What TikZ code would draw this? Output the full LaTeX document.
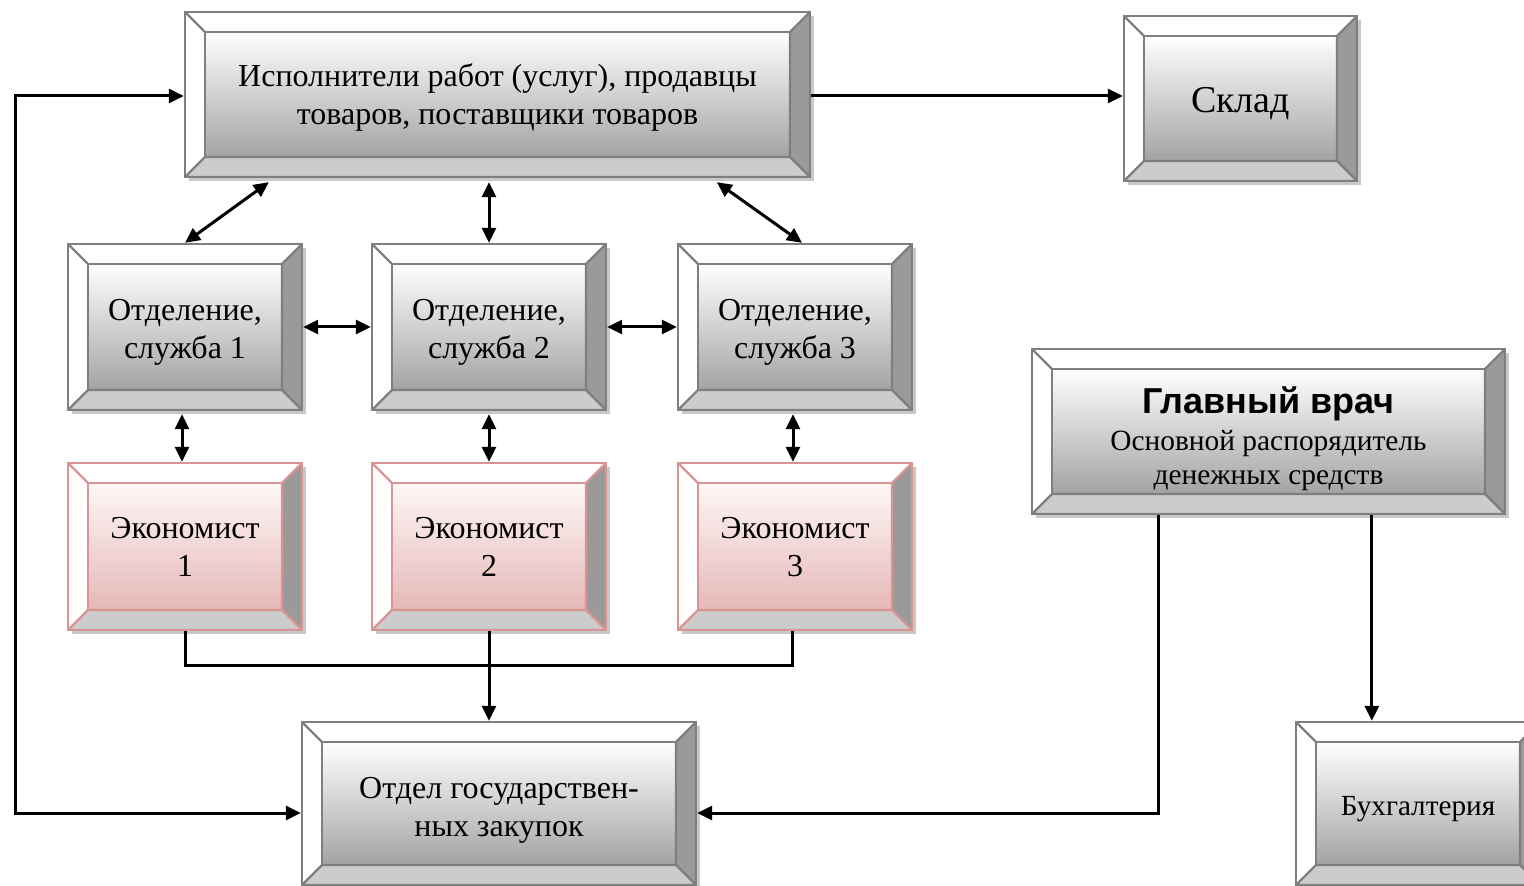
\documentclass[tikz,border=0pt]{standalone}
\usepackage{fontspec}
\setmainfont{Liberation Serif}
\newfontfamily\bsans{Liberation Sans}
\usetikzlibrary{calc,arrows.meta}
\definecolor{bgray}{HTML}{7F7F7F}
\definecolor{bpink}{HTML}{D99594}
\definecolor{rbev}{HTML}{9A9A9A}
\definecolor{bbev}{HTML}{CCCCCC}
\definecolor{ginner}{HTML}{A3A3A3}
\definecolor{pinner}{HTML}{E6B8B7}
\definecolor{ptop}{HTML}{FDF7F7}
\definecolor{shad}{HTML}{C8C8C8}
\tikzset{
  x=0.5pt, y=-0.5pt,
  tup/.style={execute at begin node={\rule{0pt}{#1}}},
  bevbase/.style n args={3}{
    rectangle, inner sep=0pt, draw=#1, line width=1.2pt, fill=white, align=center,
    font=\fontsize{16}{19}\selectfont,
    execute at end node=\strut,
    preaction={fill=shad, draw=none, transform canvas={shift={(1.8pt,-1.8pt)}}},
    path picture={
      \coordinate (bNW) at (path picture bounding box.north west);
      \coordinate (bNE) at (path picture bounding box.north east);
      \coordinate (bSW) at (path picture bounding box.south west);
      \coordinate (bSE) at (path picture bounding box.south east);
      \shade[top color=#2, bottom color=#3] ($(bNW)+(10pt,-10pt)$) rectangle ($(bSE)+(-10pt,10pt)$);
      \draw[draw=#1, line width=1.2pt] ($(bNW)+(10pt,-10pt)$) rectangle ($(bSE)+(-10pt,10pt)$);
      \filldraw[fill=rbev, draw=#1, line width=1.2pt, line join=round] (bNE) -- (bSE) -- ($(bSE)+(-10pt,10pt)$) -- ($(bNE)+(-10pt,-10pt)$) -- cycle;
      \filldraw[fill=bbev, draw=#1, line width=1.2pt, line join=round] (bSW) -- (bSE) -- ($(bSE)+(-10pt,10pt)$) -- ($(bSW)+(10pt,10pt)$) -- cycle;
      \draw[draw=#1, line width=1.2pt] (bNW) -- ($(bNW)+(10pt,-10pt)$);
    }
  },
  bevgray/.style={bevbase={bgray}{white}{ginner}},
  bevpink/.style={bevbase={bpink}{ptop}{pinner}},
  conn/.style={line width=1.5pt, black, line join=miter},
  arr/.style={conn, -{Triangle[length=7.5pt,width=7pt]}},
  dbl/.style={conn, {Triangle[length=7.5pt,width=7pt]}-{Triangle[length=7.5pt,width=7pt]}},
}
\begin{document}
\begin{tikzpicture}
\useasboundingbox (0,0) rectangle (1524,886);
\node[bevgray, minimum width=312.5pt, minimum height=82.5pt, tup=36pt] (top) at (497.5,94.5)
  {Исполнители работ (услуг), продавцы\\товаров, поставщики товаров};
\node[bevgray, minimum width=116.5pt, minimum height=82.5pt, font=\fontsize{19}{22}\selectfont, tup=20.4pt] (sklad) at (1240.5,98.5) {Склад};
\node[bevgray, minimum width=117pt, minimum height=83pt, tup=37.5pt] (otd1) at (185,327) {Отделение,\\служба 1};
\node[bevgray, minimum width=117pt, minimum height=83pt, tup=37.5pt] (otd2) at (489,327) {Отделение,\\служба 2};
\node[bevgray, minimum width=117pt, minimum height=83pt, tup=37.5pt] (otd3) at (795,327) {Отделение,\\служба 3};
\node[bevpink, minimum width=117pt, minimum height=83.5pt, tup=36pt] (ek1) at (185,546.5) {Экономист\\1};
\node[bevpink, minimum width=117pt, minimum height=83.5pt, tup=36pt] (ek2) at (489,546.5) {Экономист\\2};
\node[bevpink, minimum width=117pt, minimum height=83.5pt, tup=36pt] (ek3) at (795,546.5) {Экономист\\3};
\node[bevgray, minimum width=236.5pt, minimum height=82.5pt, font=\fontsize{14.7}{17}\selectfont, tup=58.6pt] (glav) at (1268.5,431.5)
  {{\bsans\bfseries\fontsize{18}{18}\selectfont Главный врач}\\[1.5pt]Основной распорядитель\\денежных средств};
\node[bevgray, minimum width=197pt, minimum height=81.5pt, tup=38.5pt] (zak) at (499,803.5) {Отдел государствен-\\ных закупок};
\node[bevgray, minimum width=122pt, minimum height=81.5pt, font=\fontsize{14.6}{17}\selectfont, tup=16.9pt] (buh) at (1418,803.5) {Бухгалтерия};

\coordinate (L1) at (15,96);
\coordinate (L2) at (15,813);
\draw[dbl] (top.west |- L1) -- (L1) -- (L2) -- (L2 -| zak.west);
\draw[arr] (top.east |- L1) -- (L1 -| sklad.west);
\draw[dbl] ($(top.south west)+(85,4)$) -- (otd1.north);
\draw[dbl] ($(otd2.north |- top.south)+(0,4)$) -- (otd2.north);
\draw[dbl] ($(top.south west)+(533,4)$) -- ($(otd3.north)+(7,0)$);
\draw[dbl] (otd1.east) -- (otd2.west);
\draw[dbl] (otd2.east) -- (otd3.west);
\draw[dbl] ($(otd1.south)+(-3,3)$) -- ($(ek1.north)+(-3,0)$);
\draw[dbl] ($(otd2.south)+(0,3)$) -- (ek2.north);
\draw[dbl] ($(otd3.south)+(-2,3)$) -- ($(ek3.north)+(-2,0)$);
\coordinate (J) at (489,665);
\draw[conn] (ek1.south) |- (J) -| ($(ek3.south)+(-3,0)$);
\draw[arr] (ek2.south) -- (ek2.south |- zak.north);
\coordinate (G1) at ($(glav.south west)+(128,0)$);
\coordinate (G2) at ($(glav.south west)+(341,0)$);
\draw[arr] (G1) |- (L2 -| zak.east);
\draw[arr] (G2) -- (G2 |- buh.north);
\end{tikzpicture}
\end{document}
